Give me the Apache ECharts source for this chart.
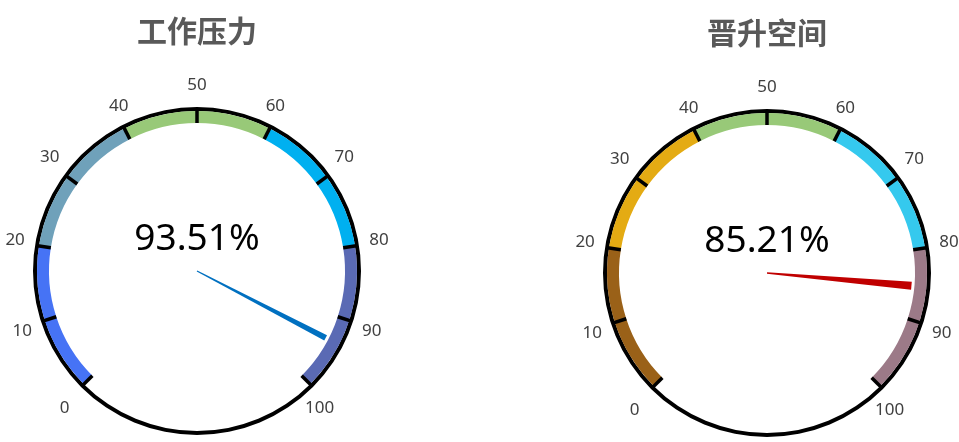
<!DOCTYPE html>
<html>
<head>
<meta charset="utf-8">
<script src="https://cdn.jsdelivr.net/npm/echarts@6/dist/echarts.min.js"></script>
<style>
  html, body { margin: 0; padding: 0; background: #fff; }
  #chart { width: 959px; height: 442px; }
</style>
</head>
<body>
<div id="chart"></div>
<script>
// gauge data
const gaugeNames = ['工作压力', '晋升空间']
const gaugeValues = [93.51, 85.21]
const gaugeCenters = [[197, 271], [767, 273]]
const bandStops = [0.2, 0.4, 0.6, 0.8, 1]
const bandColors = [
  ['#4673F5', '#6FA1BA', '#98C978', '#00B0F0', '#5A6AB4'],
  ['#9A6118', '#E4AB13', '#98C978', '#35C9EE', '#9C7A88']
]
const pointerColors = ['#0070C0', '#C00000']
const pointerWidths = [6, 8]

const chart = echarts.init(document.getElementById('chart'))

const series = []
gaugeNames.forEach((name, i) => {
  // full black circle
  series.push({
    type: 'gauge',
    center: gaugeCenters[i],
    radius: 164,
    startAngle: 90,
    endAngle: -270,
    silent: true,
    axisLine: { lineStyle: { width: 4, color: [[1, '#000']] } },
    axisTick: { show: false },
    splitLine: { show: false },
    axisLabel: { show: false },
    pointer: { show: false },
    anchor: { show: false },
    title: { show: false },
    detail: { show: false },
    data: [{ value: 0 }]
  })
  series.push({
    type: 'gauge',
    center: gaugeCenters[i],
    radius: 160,
    startAngle: 225,
    endAngle: -45,
    min: 0,
    max: 100,
    splitNumber: 10,
    axisLine: {
      lineStyle: {
        width: 12,
        color: bandStops.map((s, k) => [s, bandColors[i][k]])
      }
    },
    axisTick: { show: false },
    splitLine: {
      length: 15,
      distance: -15,
      lineStyle: { color: '#000', width: 3.5 }
    },
    axisLabel: {
      distance: -34,
      color: '#404040',
      fontSize: 17,
      fontFamily: 'Noto Sans'
    },
    pointer: {
      icon: 'path://M0,0 L10,0 L6,100 L4,100 Z',
      length: 145,
      width: pointerWidths[i],
      itemStyle: { color: pointerColors[i] }
    },
    anchor: { show: false },
    title: {
      offsetCenter: [0, -240],
      fontSize: 30,
      fontWeight: 'bold',
      color: '#595959',
      fontFamily: 'Noto Sans CJK SC'
    },
    detail: {
      offsetCenter: [0, -32],
      formatter: '{value}%',
      fontSize: 37,
      fontWeight: 'normal',
      color: '#000',
      fontFamily: 'Noto Sans'
    },
    data: [{ value: gaugeValues[i], name: name }]
  })
})

chart.setOption({
  animation: false,
  series: series
})
</script>
</body>
</html>
